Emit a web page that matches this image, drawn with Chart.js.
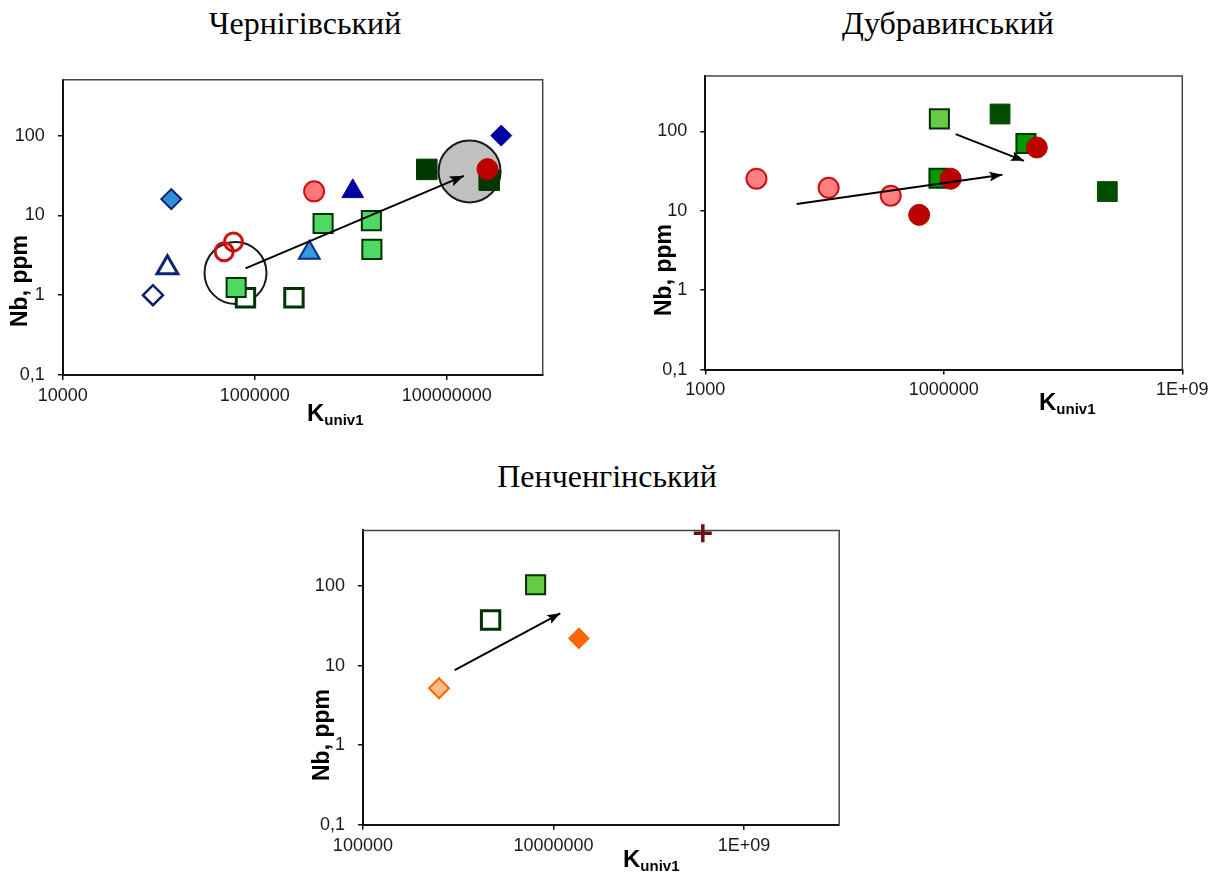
<!DOCTYPE html>
<html>
<head>
<meta charset="utf-8">
<script src="https://cdn.jsdelivr.net/npm/chart.js@4.4.1/dist/chart.umd.min.js"></script>
<style>
    body { margin: 0; background: #fff; width: 1228px; height: 874px; position: relative; overflow: hidden; }
    .title { position: absolute; width: 400px; text-align: center; font-family: 'Liberation Serif', 'Times New Roman', serif; font-size: 32px; line-height: 32px; color: #000; }
    .box { position: absolute; }
</style>
</head>
<body>
<div class="title" style="left:105px; top:7px;">Чернігівський</div>
<div class="title" style="left:748px; top:7px;">Дубравинський</div>
<div class="title" style="left:407px; top:460px;">Пенченгінський</div>

<div class="box" style="left:0px; top:60px;"><canvas id="chernChart" width="570" height="380"></canvas></div>
<div class="box" style="left:620px; top:55px;"><canvas id="dubrChart" width="608" height="380"></canvas></div>
<div class="box" style="left:290px; top:510px;"><canvas id="penChart" width="570" height="364"></canvas></div>

<script>
// --- Shared Y axis (Nb, ppm) ---
var yTicks = [0.1, 1, 10, 100];
var yTickLabels = ['0,1', '1', '10', '100'];

// --- Чернігівський: [K_univ1, Nb] ---
var chXTicks = [1e4, 1e6, 1e8];
var chXTickLabels = ['10000', '1000000', '100000000'];
var chOpenDiamond = [[8.7e4, 1.0]];
var chBlueDiamond = [[1.35e5, 16]];
var chNavyDiamond = [[3.7e8, 100]];
var chOpenTriangle = [[1.23e5, 2.2]];
var chBlueTriangle = [[3.7e6, 3.4]];
var chNavyTriangle = [[1.05e7, 20]];
var chOpenCircles = [[4.8e5, 3.5], [6.0e5, 4.65]];
var chPinkCircle = [[4.15e6, 20]];
var chRedCircle = [[2.66e8, 38]];
var chGreenSquares = [[6.4e5, 1.25], [5.15e6, 7.9], [1.64e7, 8.6], [1.66e7, 3.75]];
var chOpenSquares = [[8.0e5, 0.93], [2.56e6, 0.93]];
var chDarkSquares = [[6.2e7, 37.7], [2.77e8, 27.6]];
var chRingWhite = [[6.3e5, 1.9]];
var chRingGrey = [[1.73e8, 35.6]];
var chArrow = [[8.0e5, 2.17], [1.51e8, 31.3]];

// --- Дубравинський ---
var duXTicks = [1e3, 1e6, 1e9];
var duXTickLabels = ['1000', '1000000', '1E+09'];
var duPinkCircles = [[4.4e3, 25.4], [3.56e4, 19.5], [2.15e5, 15.5]];
var duRedCircles = [[4.9e5, 8.9], [1.22e6, 25.4], [1.48e7, 62.8]];
var duLightSquare = [[8.8e5, 144]];
var duGreenSquares = [[8.7e5, 25.8], [1.08e7, 70.6]];
var duDarkSquares = [[5.1e6, 166], [1.14e8, 17.5]];
var duArrowUp = [[1.41e4, 12.2], [5.45e6, 28.5]];
var duArrowDown = [[1.41e6, 92.7], [1.02e7, 42.7]];

// --- Пенченгінський ---
var peXTicks = [1e5, 1e7, 1e9];
var peXTickLabels = ['100000', '10000000', '1E+09'];
var peLightDiamond = [[6.3e5, 5.2]];
var peOrangeDiamond = [[1.85e7, 22]];
var peOpenSquare = [[2.19e6, 37.4]];
var peLightSquare = [[6.5e6, 104]];
var pePlus = [[3.7e8, 460]];
var peArrow = [[9.2e5, 8.8], [1.18e7, 45.4]];

function pts(arr) {
    return arr.map(function(p) { return { x: p[0], y: p[1] }; });
}

function marker(data, style, radius, fill, border, width, order) {
    return {
        data: pts(data),
        pointStyle: style,
        pointRadius: radius,
        pointHoverRadius: radius,
        pointBackgroundColor: fill,
        pointBorderColor: border,
        pointBorderWidth: width,
        backgroundColor: fill,
        borderColor: border,
        showLine: false,
        clip: false,
        order: order
    };
}

function arrow(data, head) {
    return {
        data: pts(data),
        showLine: true,
        borderColor: '#000',
        borderWidth: 2,
        pointRadius: 0,
        pointHoverRadius: 0,
        arrowHead: head,
        clip: false,
        order: 0
    };
}

// top and right edge of the plot box
var framePlugin = {
    id: 'frame',
    beforeDatasetsDraw: function(chart) {
        var a = chart.chartArea, ctx = chart.ctx;
        ctx.save();
        ctx.strokeStyle = '#444';
        ctx.lineWidth = 1.5;
        ctx.beginPath();
        ctx.moveTo(a.left, a.top);
        ctx.lineTo(a.right, a.top);
        ctx.lineTo(a.right, a.bottom);
        ctx.stroke();
        ctx.restore();
    }
};

var arrowPlugin = {
    id: 'arrowHeads',
    afterDatasetsDraw: function(chart) {
        var ctx = chart.ctx;
        chart.data.datasets.forEach(function(ds, i) {
            if (!ds.arrowHead) return;
            var pts = chart.getDatasetMeta(i).data;
            var p0 = pts[pts.length - 2], p1 = pts[pts.length - 1];
            var ang = Math.atan2(p1.y - p0.y, p1.x - p0.x);
            var len = ds.arrowHead, half = len * 0.38;
            ctx.save();
            ctx.translate(p1.x, p1.y);
            ctx.rotate(ang);
            ctx.fillStyle = '#000';
            ctx.beginPath();
            ctx.moveTo(0, 0);
            ctx.lineTo(-len, -half);
            ctx.lineTo(-len * 0.8, 0);
            ctx.lineTo(-len, half);
            ctx.closePath();
            ctx.fill();
            ctx.restore();
        });
    }
};

var axisTitlePlugin = {
    id: 'axisTitles',
    afterDraw: function(chart, args, opts) {
        var ctx = chart.ctx;
        ctx.save();
        ctx.fillStyle = '#000';
        // Nb, ppm
        ctx.translate(opts.nbX, opts.nbY);
        ctx.rotate(-Math.PI / 2);
        ctx.font = 'bold 23px "Liberation Sans", Arial, sans-serif';
        ctx.textAlign = 'center';
        ctx.textBaseline = 'middle';
        ctx.fillText('Nb, ppm', 0, 0);
        ctx.restore();

        ctx.save();
        ctx.fillStyle = '#000';
        ctx.textAlign = 'left';
        ctx.textBaseline = 'alphabetic';
        ctx.font = 'bold 24px "Liberation Sans", Arial, sans-serif';
        ctx.fillText('K', opts.kX, opts.kY);
        var w = ctx.measureText('K').width;
        ctx.font = 'bold 15px "Liberation Sans", Arial, sans-serif';
        ctx.fillText('univ1', opts.kX + w, opts.kY + 4);
        ctx.restore();
    }
};

function buildOptions(xMin, xMax, xTicks, xLabels, lay) {
    var tickFont = { family: '"Liberation Sans", Arial, sans-serif', size: 18 };
    return {
        responsive: false,
        animation: false,
        devicePixelRatio: 1,
        events: [],
        layout: { autoPadding: false, padding: { top: lay.top, right: lay.right, left: 0, bottom: 0 } },
        plugins: {
            legend: { display: false },
            tooltip: { enabled: false },
            axisTitles: lay
        },
        scales: {
            x: {
                type: 'logarithmic',
                min: xMin,
                max: xMax,
                afterBuildTicks: function(s) { s.ticks = xTicks.map(function(v) { return { value: v }; }); },
                afterFit: function(s) {
                    s.height = lay.xHeight;
                    s.paddingLeft = 0;
                    s.paddingRight = 0;
                },
                ticks: {
                    autoSkip: false, maxRotation: 0, minRotation: 0, padding: 5,
                    color: '#1a1a1a', font: tickFont,
                    callback: function(v, i) { return xLabels[i]; }
                },
                grid: { drawOnChartArea: false, drawTicks: true, tickLength: 5, color: '#111', lineWidth: 1.5 },
                border: { display: true, color: '#111', width: 2 }
            },
            y: {
                type: 'logarithmic',
                min: 0.1,
                max: 500,
                afterBuildTicks: function(s) { s.ticks = yTicks.map(function(v) { return { value: v }; }); },
                afterFit: function(s) {
                    s.width = lay.yWidth;
                    s.paddingTop = 0;
                    s.paddingBottom = 0;
                },
                ticks: {
                    autoSkip: false, padding: 13,
                    color: '#1a1a1a', font: tickFont,
                    callback: function(v, i) { return yTickLabels[i]; }
                },
                grid: { drawOnChartArea: false, drawTicks: true, tickLength: 5, color: '#111', lineWidth: 1.5 },
                border: { display: true, color: '#111', width: 2 }
            }
        }
    };
}

document.addEventListener('DOMContentLoaded', function() {
    var plugins = [framePlugin, arrowPlugin, axisTitlePlugin];

    // Чернігівський
    new Chart(document.getElementById('chernChart').getContext('2d'), {
        type: 'scatter',
        data: {
            datasets: [
                marker(chRingWhite, 'circle', 31, 'rgba(0,0,0,0)', '#1a1a1a', 2, 20),
                marker(chRingGrey, 'circle', 31, '#c0c0c0', '#1a1a1a', 2, 20),
                marker(chOpenSquares, 'rect', 13, '#fff', '#003300', 3, 12),
                marker(chGreenSquares, 'rect', 13.5, '#4fd964', '#003300', 2, 11),
                marker(chDarkSquares, 'rect', 14.5, '#013801', '#013801', 1, 10),
                marker(chOpenDiamond, 'rectRot', 10, '#fff', '#0a1f6e', 2.5, 9),
                marker(chBlueDiamond, 'rectRot', 10, '#2b8fdc', '#0a1f6e', 2, 9),
                marker(chNavyDiamond, 'rectRot', 10.5, '#0000a0', '#0000a0', 1, 9),
                marker(chOpenTriangle, 'triangle', 12, '#fff', '#0a2470', 3, 8),
                marker(chBlueTriangle, 'triangle', 12, '#3399e0', '#0a2a80', 2, 8),
                marker(chNavyTriangle, 'triangle', 12.5, '#0000a0', '#0000a0', 1, 8),
                marker(chOpenCircles, 'circle', 9, 'rgba(0,0,0,0)', '#cc1111', 3, 7),
                marker(chPinkCircle, 'circle', 10, '#ff7777', '#cc1111', 2, 7),
                marker(chRedCircle, 'circle', 10.5, '#bb0000', '#bb0000', 1, 6),
                arrow(chArrow, 14)
            ]
        },
        options: buildOptions(1e4, 1e9, chXTicks, chXTickLabels,
            { top: 19.8, right: 27.3, xHeight: 65, yWidth: 62.8, nbX: 21, nbY: 221, kX: 307, kY: 361 }),
        plugins: plugins
    });

    // Дубравинський
    new Chart(document.getElementById('dubrChart').getContext('2d'), {
        type: 'scatter',
        data: {
            datasets: [
                marker(duDarkSquares, 'rect', 14, '#004d00', '#004d00', 1, 10),
                marker(duGreenSquares, 'rect', 13.5, '#009900', '#003300', 2, 9),
                marker(duLightSquare, 'rect', 13.5, '#66cc44', '#0a2a0a', 2, 9),
                marker(duPinkCircles, 'circle', 10, '#ff8080', '#cc1111', 2, 7),
                marker(duRedCircles, 'circle', 10.5, '#bb0000', '#bb0000', 1, 6),
                arrow(duArrowUp, 13),
                arrow(duArrowDown, 13)
            ]
        },
        options: buildOptions(1e3, 1e9, duXTicks, duXTickLabels,
            { top: 21, right: 45.7, xHeight: 65.4, yWidth: 85.3, nbX: 45, nbY: 215, kX: 419, kY: 355 }),
        plugins: plugins
    });

    // Пенченгінський
    new Chart(document.getElementById('penChart').getContext('2d'), {
        type: 'scatter',
        data: {
            datasets: [
                marker(peOpenSquare, 'rect', 13, '#fff', '#003300', 3, 10),
                marker(peLightSquare, 'rect', 13.5, '#66cc44', '#003300', 2, 9),
                marker(peLightDiamond, 'rectRot', 10, '#ffbb88', '#ff6600', 2, 8),
                marker(peOrangeDiamond, 'rectRot', 10.5, '#ff6600', '#ff6600', 1, 8),
                marker(pePlus, 'cross', 9, '#6b1111', '#6b1111', 3.5, 7),
                arrow(peArrow, 13)
            ]
        },
        options: buildOptions(1e5, 1e10, peXTicks, peXTickLabels,
            { top: 20.4, right: 20.8, xHeight: 49.2, yWidth: 72.9, nbX: 33, nbY: 225, kX: 333, kY: 357 }),
        plugins: plugins
    });
});
</script>
</body>
</html>
